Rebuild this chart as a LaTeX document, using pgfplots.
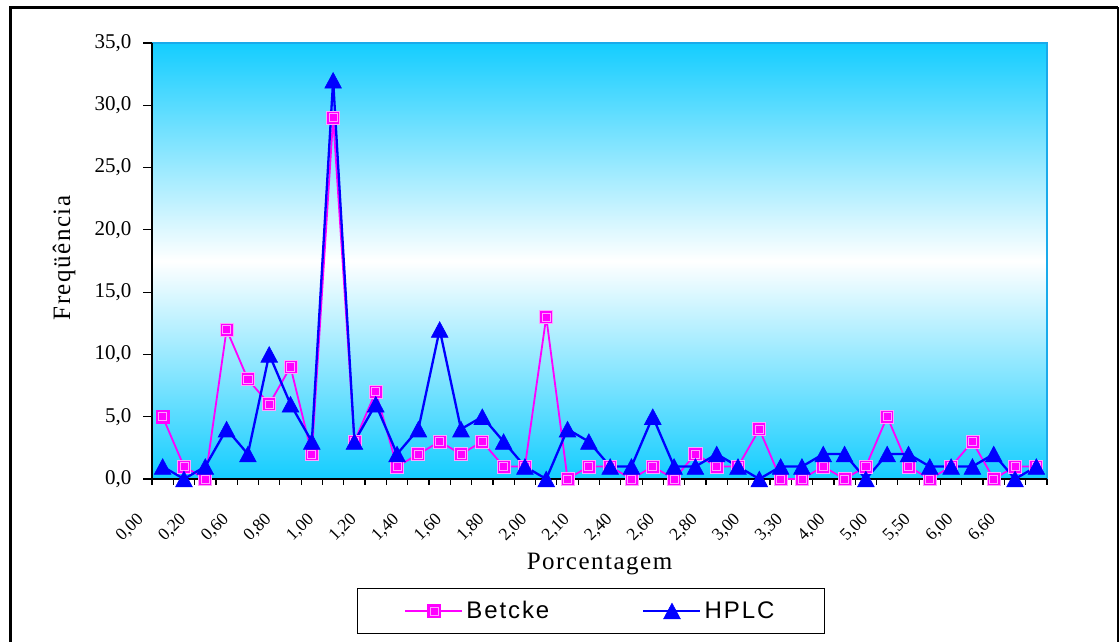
\documentclass[border=0pt]{standalone}
\usepackage{pgfplots}
\pgfplotsset{compat=1.18}
\usepackage{pgfplotstable}
\usepackage{fontspec}
\setmainfont{Liberation Serif}
\newfontfamily\labfont[LetterSpace=6]{Liberation Serif}
\newfontfamily\legfont[LetterSpace=8]{Liberation Sans}

\definecolor{bgcyan}{RGB}{20,205,255}
\definecolor{plotborder}{RGB}{25,170,235}
\definecolor{betcke}{RGB}{255,0,255}
\definecolor{betckein}{RGB}{255,160,255}
\definecolor{hplc}{RGB}{0,0,255}

% square with an inner bevel line
\pgfdeclareplotmark{bsq}{%
  \pgfpathrectangle{\pgfqpoint{-\pgfplotmarksize}{-\pgfplotmarksize}}%
    {\pgfqpoint{2\pgfplotmarksize}{2\pgfplotmarksize}}%
  \pgfusepathqfillstroke
  \pgfsetstrokecolor{betckein}%
  \pgfsetlinewidth{0.8pt}%
  \pgfpathrectangle{\pgfqpoint{-0.62\pgfplotmarksize}{-0.62\pgfplotmarksize}}%
    {\pgfqpoint{1.24\pgfplotmarksize}{1.24\pgfplotmarksize}}%
  \pgfusepathqstroke
}
% triangle centred on its bounding box
\pgfdeclareplotmark{tri}{%
  \pgfpathmoveto{\pgfqpoint{0pt}{1.0\pgfplotmarksize}}%
  \pgfpathlineto{\pgfqpoint{1.07\pgfplotmarksize}{-1.0\pgfplotmarksize}}%
  \pgfpathlineto{\pgfqpoint{-1.07\pgfplotmarksize}{-1.0\pgfplotmarksize}}%
  \pgfpathclose
  \pgfusepathqfillstroke
}

% category index, Betcke, HPLC
\pgfplotstableread{
x  b   h
0  5   1
1  1   0
2  0   1
3  12  4
4  8   2
5  6   10
6  9   6
7  2   3
8  29  32
9  3   3
10 7   6
11 1   2
12 2   4
13 3   12
14 2   4
15 3   5
16 1   3
17 1   1
18 13  0
19 0   4
20 1   3
21 1   1
22 0   1
23 1   5
24 0   1
25 2   1
26 1   2
27 1   1
28 4   0
29 0   1
30 0   1
31 1   2
32 0   2
33 1   0
34 5   2
35 1   2
36 0   1
37 1   1
38 3   1
39 0   2
40 1   0
41 1   1
}\freqdata

\begin{document}
\begin{tikzpicture}
\begin{axis}[
  at={(152pt,163pt)}, anchor=south west,
  scale only axis, width=895pt, height=436pt,
  xmin=-0.5, xmax=41.5, ymin=0, ymax=35,
  clip=false,
  axis x line*=bottom, axis y line*=left,
  axis line style={black, line width=1.6pt},
  axis background/.style={top color=bgcyan, bottom color=bgcyan, middle color=white,
    draw=plotborder, line width=2pt},
  tick align=outside,
  xtick={0,2,...,40},
  xticklabels={0{,}00,0{,}20,0{,}60,0{,}80,1{,}00,1{,}20,1{,}40,1{,}60,1{,}80,2{,}00,
    2{,}10,2{,}40,2{,}60,2{,}80,3{,}00,3{,}30,4{,}00,5{,}00,5{,}50,6{,}00,6{,}60},
  minor xtick={-0.5,0.5,...,41.5},
  major x tick style={draw=none},
  minor x tick style={black, line width=1.2pt},
  minor tick length=6pt,
  ytick={0,5,...,35},
  major y tick style={black, line width=1.2pt},
  major tick length=9pt,
  xticklabel style={font=\fontsize{17.5}{19}\selectfont, xshift=-21pt, yshift=-28pt,
    rotate=45, anchor=east, inner sep=1pt},
  yticklabel style={font=\fontsize{21}{24}\selectfont, xshift=-8pt},
  /pgf/number format/.cd, fixed, fixed zerofill, precision=1, use comma, assume math mode=true,
  /pgfplots/.cd,
  xlabel={Porcentagem},
  xlabel style={font=\labfont\fontsize{25}{28}\selectfont,
    at={(axis description cs:0.5,-0.195)}, anchor=center},
  ylabel={Freqüência},
  ylabel style={font=\labfont\fontsize{25}{28}\selectfont,
    at={(axis description cs:-0.0983,0.507)}, anchor=center, rotate=0},
  legend columns=2,
  legend image code/.code={%
    \draw[mark repeat=2,mark phase=2,#1] plot coordinates {(0pt,0pt) (28.5pt,0pt) (57pt,0pt)};},
  legend style={at={(axis description cs:0.4905,-0.3028)}, anchor=center,
    draw=black, line width=1.3pt, fill=white,
    font=\legfont\fontsize{24}{28}\selectfont,
    inner xsep=47pt, inner ysep=7pt,
    nodes={inner xsep=3pt, inner ysep=6pt},
    /tikz/every even column/.append style={column sep=90pt}},
]
\addplot[color=betcke, line width=1.8pt, mark=bsq, mark size=6.5pt,
  mark options={fill=betcke, draw=betcke, line width=1pt}]
  table[x=x, y=b] {\freqdata};
\addlegendentry{Betcke}
\addplot[color=hplc, line width=2.3pt, mark=tri, mark size=7.8pt,
  mark options={fill=hplc, draw=hplc, line width=0.6pt}]
  table[x=x, y=h] {\freqdata};
\addlegendentry{HPLC}
\end{axis}
% outer chart frame
\draw[line width=3pt] (10pt,-10pt) -- (10pt,634.5pt) -- (1118pt,634.5pt);
\draw[line width=2pt] (1118pt,634.5pt) -- (1118pt,-10pt);
\pgfresetboundingbox
\path[use as bounding box] (0pt,0pt) rectangle (1119pt,642pt);
\end{tikzpicture}
\end{document}
